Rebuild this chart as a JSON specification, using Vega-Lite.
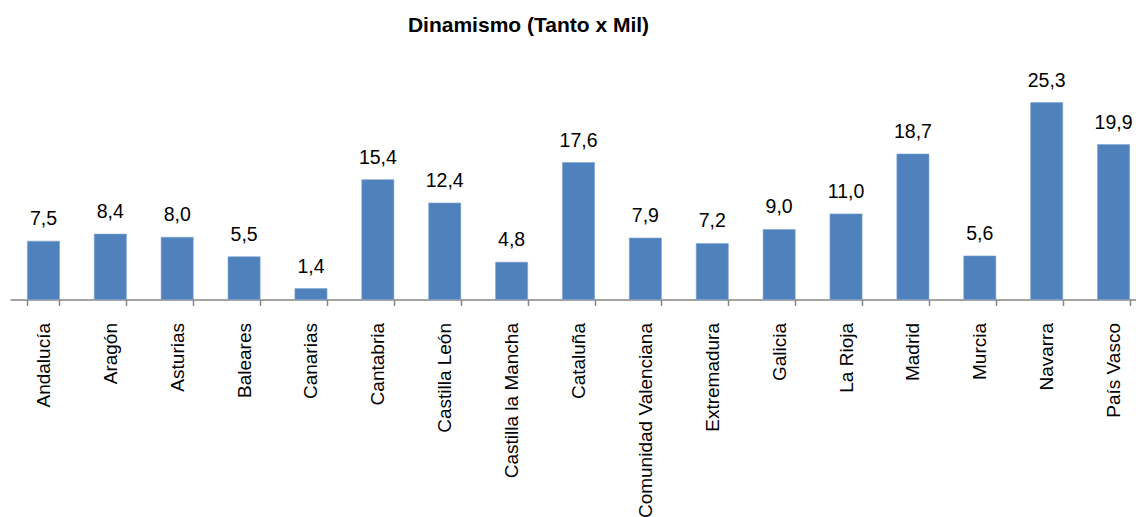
{
  "$schema": "https://vega.github.io/schema/vega-lite/v6.json",
  "autosize": "none",
  "width": 1137,
  "height": 233.5,
  "padding": {"left": 10, "top": 66, "right": 0, "bottom": 218},
  "background": "white",
  "config": {
    "view": {"stroke": null},
    "locale": {"number": {"decimal": ",", "thousands": ".", "grouping": [3], "currency": ["", " €"]}},
    "font": "Liberation Sans"
  },
  "title": {
    "text": "Dinamismo (Tanto x Mil)",
    "font": "Liberation Sans",
    "fontSize": 21,
    "fontWeight": "bold",
    "color": "#000000",
    "anchor": "middle",
    "dx": -50,
    "baseline": "alphabetic",
    "offset": 13
  },
  "data": {
    "values": [
      {"region": "Andalucía", "value": 7.5},
      {"region": "Aragón", "value": 8.4},
      {"region": "Asturias", "value": 8.0},
      {"region": "Baleares", "value": 5.5},
      {"region": "Canarias", "value": 1.4},
      {"region": "Cantabria", "value": 15.4},
      {"region": "Castilla León", "value": 12.4},
      {"region": "Castilla la Mancha", "value": 4.8},
      {"region": "Cataluña", "value": 17.6},
      {"region": "Comunidad Valenciana", "value": 7.9},
      {"region": "Extremadura", "value": 7.2},
      {"region": "Galicia", "value": 9.0},
      {"region": "La Rioja", "value": 11.0},
      {"region": "Madrid", "value": 18.7},
      {"region": "Murcia", "value": 5.6},
      {"region": "Navarra", "value": 25.3},
      {"region": "País Vasco", "value": 19.9}
    ]
  },
  "encoding": {
    "x": {
      "field": "region",
      "type": "nominal",
      "sort": null,
      "title": null,
      "scale": {"paddingInner": 0.52, "paddingOuter": 0.26},
      "axis": {
        "labelAngle": -90,
        "labelFont": "Liberation Sans",
        "labelFontSize": 19,
        "labelColor": "#000000",
        "labelPadding": 17,
        "domainColor": "#868686",
        "domainWidth": 1.5,
        "tickColor": "#868686",
        "tickWidth": 1.5,
        "tickSize": 6,
        "tickBand": "extent",
        "labelLimit": 400
      }
    },
    "y": {
      "field": "value",
      "type": "quantitative",
      "scale": {"domain": [0, 30], "nice": false},
      "axis": null
    }
  },
  "layer": [
    {
      "mark": {"type": "bar", "color": "#4F81BD", "stroke": "#7FA3D1", "strokeWidth": 0.6}
    },
    {
      "mark": {"type": "text", "baseline": "alphabetic", "dy": -16, "fontSize": 19.5, "font": "Liberation Sans", "color": "#000000"},
      "encoding": {"text": {"field": "value", "type": "quantitative", "format": ".1f"}}
    }
  ]
}
